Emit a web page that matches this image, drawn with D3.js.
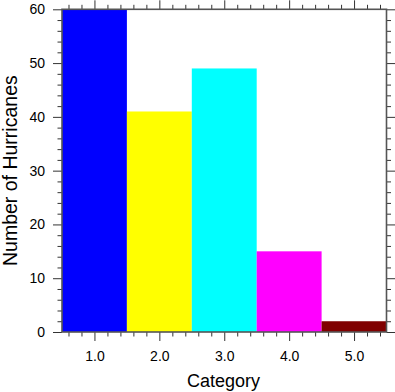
<!DOCTYPE html>
<html>
<head>
<meta charset="utf-8">
<script src="https://cdn.jsdelivr.net/npm/d3@7"></script>
<style>
  body { margin: 0; background: #fff; }
  text { font-family: "Liberation Sans", Arial, Helvetica, sans-serif; fill: #000; }
</style>
</head>
<body>
<svg id="chart" width="395" height="392"></svg>
<script>
// hurricane counts per category
const categories = [1, 2, 3, 4, 5];
const counts = [60, 41, 49, 15, 2];
const barColors = ["#0000ff", "#ffff00", "#00ffff", "#ff00ff", "#800000"];
const yTicks = [0, 10, 20, 30, 40, 50, 60];

const svg = d3.select("#chart");
const plotLeft = 62, plotRight = 386.5, plotTop = 9.3, plotBottom = 332;

const x = d3.scaleLinear().domain([0.5, 5.5]).range([plotLeft, plotRight]);
const y = d3.scaleLinear().domain([0, 60]).range([plotBottom, plotTop]);

// bars fill the whole width of each category
svg.selectAll("rect.bar")
  .data(categories)
  .enter()
  .append("rect")
  .attr("class", "bar")
  .attr("x", d => x(d - 0.5))
  .attr("width", d => x(d + 0.5) - x(d - 0.5))
  .attr("y", (d, i) => y(Math.min(counts[i], 60)))
  .attr("height", (d, i) => plotBottom - y(Math.min(counts[i], 60)))
  .attr("fill", (d, i) => barColors[i]);

// minor ticks
const xMinor = d3.range(0.6, 5.5, 0.2).filter(v => Math.abs(v - Math.round(v)) > 0.01);
const yMinor = d3.range(0, 61, 2).filter(v => v % 10 !== 0);

const axisColor = "#333";
const bottomAxis = d3.axisBottom(x).tickValues(categories).tickFormat(d3.format(".1f")).tickSizeInner(9).tickSizeOuter(0).tickPadding(10);
const topAxis = d3.axisTop(x).tickValues(categories).tickFormat("").tickSizeInner(9).tickSizeOuter(0);
const leftAxis = d3.axisLeft(y).tickValues(yTicks).tickSizeInner(9).tickSizeOuter(0).tickPadding(8);
const rightAxis = d3.axisRight(y).tickValues(yTicks).tickFormat("").tickSizeInner(9).tickSizeOuter(0);

function styleAxis(g) {
  g.select(".domain").remove();
  g.selectAll(".tick line").attr("stroke", axisColor);
  g.selectAll(".tick text").style("font-size", "14px").attr("fill", "#000");
}

svg.append("g").attr("transform", `translate(0,${plotBottom})`).call(bottomAxis).call(styleAxis);
svg.append("g").attr("transform", `translate(0,${plotTop})`).call(topAxis).call(styleAxis);
svg.append("g").attr("transform", `translate(${plotLeft},0)`).call(leftAxis).call(styleAxis);
svg.append("g").attr("transform", `translate(${plotRight},0)`).call(rightAxis).call(styleAxis);

// minor tick marks on all four sides
svg.append("g").attr("transform", `translate(0,${plotBottom})`)
  .call(d3.axisBottom(x).tickValues(xMinor).tickFormat("").tickSizeInner(4.5).tickSizeOuter(0)).call(styleAxis);
svg.append("g").attr("transform", `translate(0,${plotTop})`)
  .call(d3.axisTop(x).tickValues(xMinor).tickFormat("").tickSizeInner(4.5).tickSizeOuter(0)).call(styleAxis);
svg.append("g").attr("transform", `translate(${plotLeft},0)`)
  .call(d3.axisLeft(y).tickValues(yMinor).tickFormat("").tickSizeInner(4.5).tickSizeOuter(0)).call(styleAxis);
svg.append("g").attr("transform", `translate(${plotRight},0)`)
  .call(d3.axisRight(y).tickValues(yMinor).tickFormat("").tickSizeInner(4.5).tickSizeOuter(0)).call(styleAxis);

// plot frame
svg.append("rect")
  .attr("x", plotLeft).attr("y", plotTop)
  .attr("width", plotRight - plotLeft).attr("height", plotBottom - plotTop)
  .attr("fill", "none").attr("stroke", "#555").attr("stroke-width", 1.6);

// axis titles
svg.append("text")
  .attr("x", 223.5).attr("y", 387)
  .attr("text-anchor", "middle")
  .style("font-size", "18px")
  .text("Category");

svg.append("text")
  .attr("transform", `translate(16.5,${(plotTop + plotBottom) / 2}) rotate(-90)`)
  .attr("text-anchor", "middle")
  .style("font-size", "19.5px")
  .text("Number of Hurricanes");
</script>
</body>
</html>
